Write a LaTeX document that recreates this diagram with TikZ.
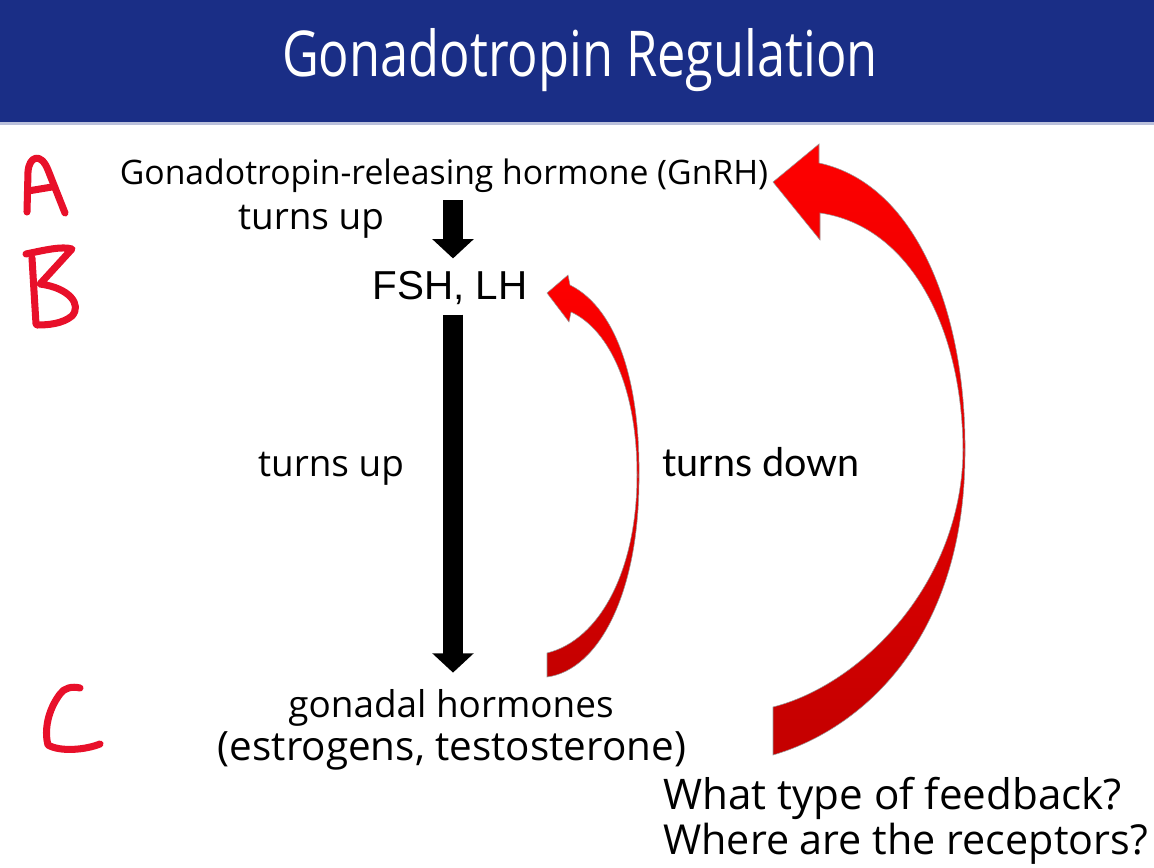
\documentclass[tikz,border=0pt]{standalone}
\usepackage{fontspec}
\setmainfont{Open Sans}
\newfontfamily\arialfont{Liberation Sans}
\newfontfamily\gillfont{Lato}
\usetikzlibrary{arrows.meta,calc}
\definecolor{titleblue}{HTML}{1A2E86}
\definecolor{fbred}{HTML}{FF0000}
\definecolor{fbdark}{HTML}{C40000}
\definecolor{inkred}{HTML}{E8102A}

\begin{document}
\begin{tikzpicture}[x=0.02cm,y=-0.02cm,
      lbl/.style={inner sep=0pt,anchor=base,font=\fontsize{21}{25}\selectfont},
      upar/.style={line width=11pt,-{Triangle[width=23pt,length=11pt]}},
      fb/.style={top color=fbred,bottom color=fbdark,draw=black!40,line width=0.3pt},
      hand/.style={inkred,line width=4pt,line cap=round,line join=round}]

    \useasboundingbox (0,0) rectangle (1154,868);
    \fill[white] (0,0) rectangle (1154,868);
    \fill[titleblue] (0,0) rectangle (1154,122);
    \fill[titleblue!30] (0,122) rectangle (1154,125);
    \node[inner sep=0pt,anchor=base,text=white,font=\fontsize{36}{40}\selectfont]
      (title) at (580,77) {\scalebox{0.8}[1]{Gonadotropin Regulation}};

    \node[lbl,font=\fontsize{19.2}{23}\selectfont] (gnrh) at (444,185) {Gonadotropin-releasing hormone (GnRH)};
    \node[lbl] (up1) at (311,230) {turns up};
    \node[lbl,font=\arialfont\fontsize{23}{27}\selectfont] (fsh) at (450,300) {FSH, LH};
    \node[lbl] (up2) at (331,477) {turns up};
    \node[lbl,font=\gillfont\fontsize{22.5}{26}\selectfont] (down) at (761,477) {turns down};
    \node[lbl] (gonad) at (451,717) {gonadal hormones};
    \node[lbl,font=\fontsize{23}{27}\selectfont] (steroids) at (452,760) {(estrogens, testosterone)};
    \node[lbl,anchor=base west,font=\fontsize{24}{28}\selectfont] (q1) at (663,809) {What type of feedback?};
    \node[lbl,anchor=base west,font=\fontsize{23.5}{28}\selectfont] (q2) at (663,854) {Where are the receptors?};

    \draw[upar] ($(fsh.north |- gnrh.south)+(3,7)$) -- ($(fsh.north)+(3,-13)$);
    \draw[upar] ($(fsh.south)+(3,9)$) -- ($(gonad.north)+(2,-16)$);

    % short loop: gonadal hormones back to FSH, LH
    \shade[fb] (547,653) .. controls (600,640) and (637,570) .. (637,475)
      .. controls (637,390) and (610,330) .. (571,312)
      -- (569,322) -- (547,293) -- (568,275) -- (570,285)
      .. controls (620,310) and (640,390) .. (639,475)
      .. controls (640,590) and (600,670) .. (547,677) -- cycle;

    % long loop: gonadal hormones back to GnRH
    \shade[fb] (773,707) .. controls (860,685) and (962,585) .. (963,450)
      .. controls (962,320) and (905,225) .. (820,213)
      -- (820,240) -- (773,182) -- (819,144) -- (819,163)
      .. controls (920,185) and (966,320) .. (965,450)
      .. controls (966,640) and (860,730) .. (773,755) -- cycle;

    % handwritten letters
    \draw[hand] (27,212) -- (28,172) .. controls (29,156) and (41,152) .. (48,170) -- (65,213);
    \draw[hand] (28,191) -- (52,187);
    \draw[hand] (32,258) -- (36,324);
    \draw[hand] (26,254) .. controls (45,250) and (62,246) .. (72,249)
      -- (40,284) .. controls (70,288) and (82,305) .. (72,316)
      .. controls (62,324) and (48,325) .. (37,325);
    \draw[hand] (80,688) .. controls (72,686) and (64,688) .. (60,694)
      .. controls (48,710) and (44,730) .. (48,745)
      .. controls (60,752) and (85,750) .. (100,744);
  \end{tikzpicture}
\end{document}
